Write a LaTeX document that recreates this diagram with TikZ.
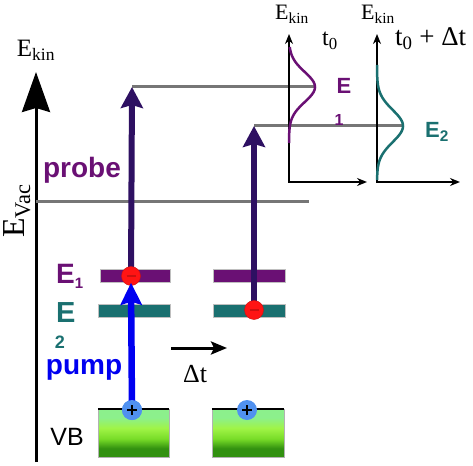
\documentclass[tikz,border=0pt]{standalone}
\usepackage{fontspec}
\setmainfont{Liberation Serif}
\setsansfont{Liberation Sans}
\usetikzlibrary{arrows.meta}
\definecolor{probecol}{RGB}{46,16,98}
\definecolor{eonecol}{RGB}{106,16,116}
\definecolor{etwocol}{RGB}{26,112,112}
\definecolor{pumpcol}{RGB}{0,0,240}
\definecolor{elcol}{RGB}{255,20,20}
\definecolor{holecol}{RGB}{80,145,240}
\definecolor{levcol}{RGB}{118,118,118}
\definecolor{vbtop}{RGB}{140,240,140}
\definecolor{vbmid}{RGB}{160,244,70}
\definecolor{vblow}{RGB}{120,220,40}
\definecolor{vbbot}{RGB}{50,145,16}
\pgfdeclareverticalshading{vbshade}{100bp}{color(0bp)=(vbbot); color(34bp)=(vbbot);
  color(44bp)=(vblow); color(55bp)=(vbmid); color(66bp)=(vbtop); color(100bp)=(vbtop)}
\newcommand{\fs}[1]{\fontsize{#1}{#1}\selectfont}

\begin{document}
\begin{tikzpicture}[x=1pt,y=-1pt,
  level/.style={levcol,line width=3pt},
  beam/.style={line width=6pt,-{Stealth[length=21pt,width=22pt,inset=3pt]}},
  paxis/.style={line width=2.5pt,{Stealth[length=10pt,width=8pt]}-{Stealth[length=10pt,width=8pt]}},
  bar/.style={minimum height=13pt,inner sep=0pt,draw=gray!50,thin},
  vb/.style={minimum height=48pt,inner sep=0pt,draw=gray!60,thin,shading=vbshade},
  electron/.style={circle,fill=elcol,draw=elcol!80!black,thin,minimum size=19pt,inner sep=0pt,
    path picture={\draw[line width=2.6pt] ([xshift=-4.5pt]path picture bounding box.center)
      -- ([xshift=4.5pt]path picture bounding box.center);}},
  hole/.style={circle,fill=holecol,minimum size=20pt,inner sep=0pt,
    path picture={\draw[line width=2.6pt] ([xshift=-5pt]path picture bounding box.center)
      -- ([xshift=5pt]path picture bounding box.center)
      ([yshift=-5pt]path picture bounding box.center)
      -- ([yshift=5pt]path picture bounding box.center);}},
  lbl/.style={inner sep=0pt},
  bold/.style={lbl,font=\bfseries\sffamily\fs{#1}},
]
\useasboundingbox (0,0) rectangle (473,465);

% energy axis
\coordinate (kbot) at (36,462);
\coordinate (ktop) at (36,72);
\draw[line width=3pt,-{Stealth[length=40pt,width=28pt,inset=4pt]}] (kbot) -- (ktop);
\node[lbl,font=\fs{25},anchor=base] (ekin) at (36,57) {E\textsubscript{kin}};
\node[lbl,font=\fs{32},rotate=90,anchor=base] (evac) at (24,211) {E\textsubscript{Vac}};

% levels
\coordinate (vac0) at (36,201);
\coordinate (vac1) at (309,201);
\coordinate (p1) at (132,87);
\coordinate (p2) at (254,126);
\coordinate (g1) at (315,87);
\coordinate (g2) at (403,126);
\draw[level] (vac0) -- (vac1);
\draw[level] (p1) -- (g1);
\draw[level] (p2) -- (g2);

% bands
\node[bar,fill=eonecol,minimum width=70pt] (onea) at (135,275.5) {};
\node[bar,fill=etwocol,minimum width=72pt] (twoa) at (134,310.5) {};
\node[bar,fill=eonecol,minimum width=72pt] (oneb) at (249,275.5) {};
\node[bar,fill=etwocol,minimum width=72pt] (twob) at (249,310.5) {};
\node[vb,minimum width=71pt] (vba) at (133.5,433) {};
\node[vb,minimum width=72pt] (vbb) at (248,433) {};
\draw[line width=2pt] (vba.north west) -- (vba.north east);
\draw[line width=2pt] (vbb.north west) -- (vbb.north east);

% carriers and beams
\coordinate (el1pos) at (131,276);
\coordinate (el2pos) at (254,310);
\draw[beam,probecol] (el1pos) -- (p1);
\draw[beam,probecol] (el2pos) -- (p2);
\node[electron] (el1) at (el1pos) {};
\node[electron] (el2) at (el2pos) {};
\node[hole] (h1) at (132,410) {};
\node[hole] (h2) at (247,410) {};
\draw[pumpcol,line width=6.5pt,-{Stealth[length=22pt,width=21pt,inset=3pt]}] (h1.center) -- ([yshift=3pt]el1.south);
\node[hole] at (h1) {};

% delay
\coordinate (dt0) at (171,348);
\coordinate (dt1) at (227,348);
\draw[line width=3pt,-{Stealth[length=16pt,width=13pt,inset=3pt]}] (dt0) -- (dt1);
\node[lbl,font=\fs{26},anchor=base] (dt) at (195,382) {Δt};

% labels
\node[bold=28,text=eonecol,anchor=base] (probe) at (82,177) {probe};
\node[bold=28,text=pumpcol,anchor=base,text height=14pt] (pump) at (84,374) {pump};
\node[bold=28,text=eonecol,anchor=base west] (lone) at (56,283) {E{\fs{15}\raisebox{-5pt}{1}}};
\node[bold=29,text=etwocol,anchor=base west] (ltwo) at (56,322) {E};
\node[bold=18,text=etwocol] (ltwob) at (60,342) {2};
\node[lbl,font=\sffamily\fs{25},anchor=base] (vblbl) at (67,445) {VB};

% spectra
\coordinate (o1) at (289,182);
\coordinate (o2) at (377,182);
\draw[paxis] (o1 |- 0,34) -- (o1) -- (367,182);
\draw[paxis] (o2 |- 0,34) -- (o2) -- (460,182);
\draw[eonecol,line width=2.5pt] plot[domain=47:143,samples=80,smooth] ({289+26*exp(-(\x-87)^2/450)},\x);
\draw[etwocol,line width=2.5pt] plot[domain=65:180,samples=80,smooth] ({377+26*exp(-(\x-126)^2/512)},\x);
\node[lbl,font=\fs{22},anchor=base] (ekina) at (292,20) {E\textsubscript{kin}};
\node[lbl,font=\fs{22},anchor=base] (ekinb) at (378,20) {E\textsubscript{kin}};
\node[lbl,font=\fs{24},anchor=base] (tzero) at (330,46) {t\textsubscript{0}};
\node[lbl,font=\fs{27},anchor=base west] (tdelay) at (395,46) {t\textsubscript{0} + Δt};
\node[bold=22,text=eonecol] (sone) at (344,86) {E};
\node[bold=16,text=eonecol] (soneb) at (339,120) {1};
\node[bold=22,text=etwocol,anchor=base west] (stwo) at (425,138) {E\textsubscript{2}};
\end{tikzpicture}
\end{document}
